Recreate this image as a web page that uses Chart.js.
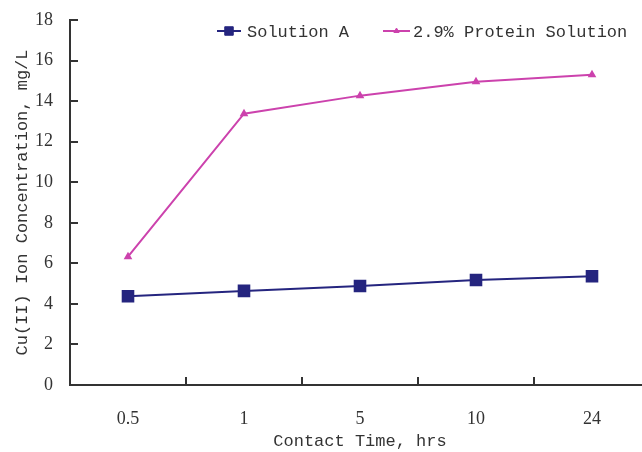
<!DOCTYPE html>
<html>
<head>
<meta charset="utf-8">
<script src="https://cdn.jsdelivr.net/npm/chart.js@4/dist/chart.umd.min.js"></script>
<style>
html,body{margin:0;padding:0;background:#fff;overflow:hidden;width:642px;height:452px;}
#wrap{width:662px;height:452px;}
</style>
</head>
<body>
<div id="wrap"><canvas id="c" width="662" height="452"></canvas></div>
<script>
const categories = ['0.5', '1', '5', '10', '24'];
const solutionA = [4.38, 4.64, 4.88, 5.18, 5.36];
const proteinSolution = [6.33, 13.38, 14.27, 14.95, 15.3];
const seriesNames = ['Solution A', '2.9% Protein Solution'];
const yTicks = [0, 2, 4, 6, 8, 10, 12, 14, 16, 18];

const FONT = "'Liberation Mono', 'DejaVu Sans Mono', monospace";
const NUMFONT = "'Liberation Serif', 'Times New Roman', serif";
const NAVY = '#25257f';
const MAGENTA = '#cc42ad';
const AXIS = '#333333';

const decor = {
  id: 'decor',
  afterDraw(chart) {
    const ctx = chart.ctx;
    const x = chart.scales.x, y = chart.scales.y;
    ctx.save();
    ctx.strokeStyle = AXIS;
    ctx.lineWidth = 2;
    ctx.beginPath();
    yTicks.forEach(v => {
      const py = Math.round(y.getPixelForValue(v));
      ctx.moveTo(x.left, py);
      ctx.lineTo(x.left + 8, py);
    });
    for (let i = 0; i < categories.length - 1; i++) {
      const px = Math.round(x.getPixelForValue(i + 0.5));
      ctx.moveTo(px, y.bottom);
      ctx.lineTo(px, y.bottom - 8);
    }
    ctx.stroke();

    // legend
    const pos = [{ x0: 217, x1: 241, tx: 247 }, { x0: 383, x1: 410, tx: 413 }];
    const ly = 31;
    ctx.font = "17px " + FONT;
    ctx.textBaseline = 'middle';
    ctx.textAlign = 'left';
    chart.data.datasets.forEach((ds, i) => {
      const p = pos[i];
      ctx.strokeStyle = ds.borderColor;
      ctx.fillStyle = ds.backgroundColor;
      ctx.lineWidth = 2;
      ctx.beginPath();
      ctx.moveTo(p.x0, ly);
      ctx.lineTo(p.x1, ly);
      ctx.stroke();
      ctx.lineWidth = 1;
      Chart.helpers.drawPoint(ctx, {
        pointStyle: ds.pointStyle,
        radius: i === 0 ? 6 : 3,
        borderWidth: 1
      }, (p.x0 + p.x1) / 2, ly);
      ctx.fillStyle = '#333';
      ctx.fillText(ds.label, p.tx, ly + 1);
    });
    ctx.restore();
  }
};

new Chart(document.getElementById('c'), {
  type: 'line',
  data: {
    labels: categories,
    datasets: [
      {
        label: seriesNames[0],
        data: solutionA,
        borderColor: NAVY,
        backgroundColor: NAVY,
        pointBackgroundColor: NAVY,
        pointBorderColor: NAVY,
        pointStyle: 'rect',
        pointRadius: 7.5,
        borderWidth: 2,
        tension: 0
      },
      {
        label: seriesNames[1],
        data: proteinSolution,
        borderColor: MAGENTA,
        backgroundColor: MAGENTA,
        pointBackgroundColor: MAGENTA,
        pointBorderColor: MAGENTA,
        pointStyle: 'triangle',
        pointRadius: 3,
        borderWidth: 2,
        tension: 0
      }
    ]
  },
  options: {
    responsive: false,
    animation: false,
    devicePixelRatio: 1,
    layout: { padding: { top: 20, right: 12, left: 0, bottom: 0 } },
    plugins: {
      legend: { display: false },
      tooltip: { enabled: false }
    },
    scales: {
      x: {
        type: 'category',
        offset: true,
        grid: { display: false, drawTicks: false },
        border: { display: true, color: AXIS, width: 2 },
        ticks: { color: '#333', font: { family: NUMFONT, size: 18 }, padding: 23, maxRotation: 0 },
        title: { display: true, text: 'Contact Time, hrs', color: '#333', font: { family: FONT, size: 17 }, padding: { top: 0, bottom: 0 } },
        afterFit(s) { s.height = 67; s.paddingLeft = 0; s.paddingRight = 0; }
      },
      y: {
        min: 0, max: 18,
        grid: { display: false, drawTicks: false },
        border: { display: true, color: AXIS, width: 2 },
        ticks: { stepSize: 2, color: '#333', font: { family: NUMFONT, size: 18 }, padding: 17 },
        title: { display: true, text: 'Cu(II) Ion Concentration, mg/L', color: '#333', font: { family: FONT, size: 17 }, padding: { top: 12, bottom: 0 } },
        afterFit(s) { s.width = 70; s.paddingTop = 0; s.paddingBottom = 0; }
      }
    }
  },
  plugins: [decor]
});
</script>
</body>
</html>
